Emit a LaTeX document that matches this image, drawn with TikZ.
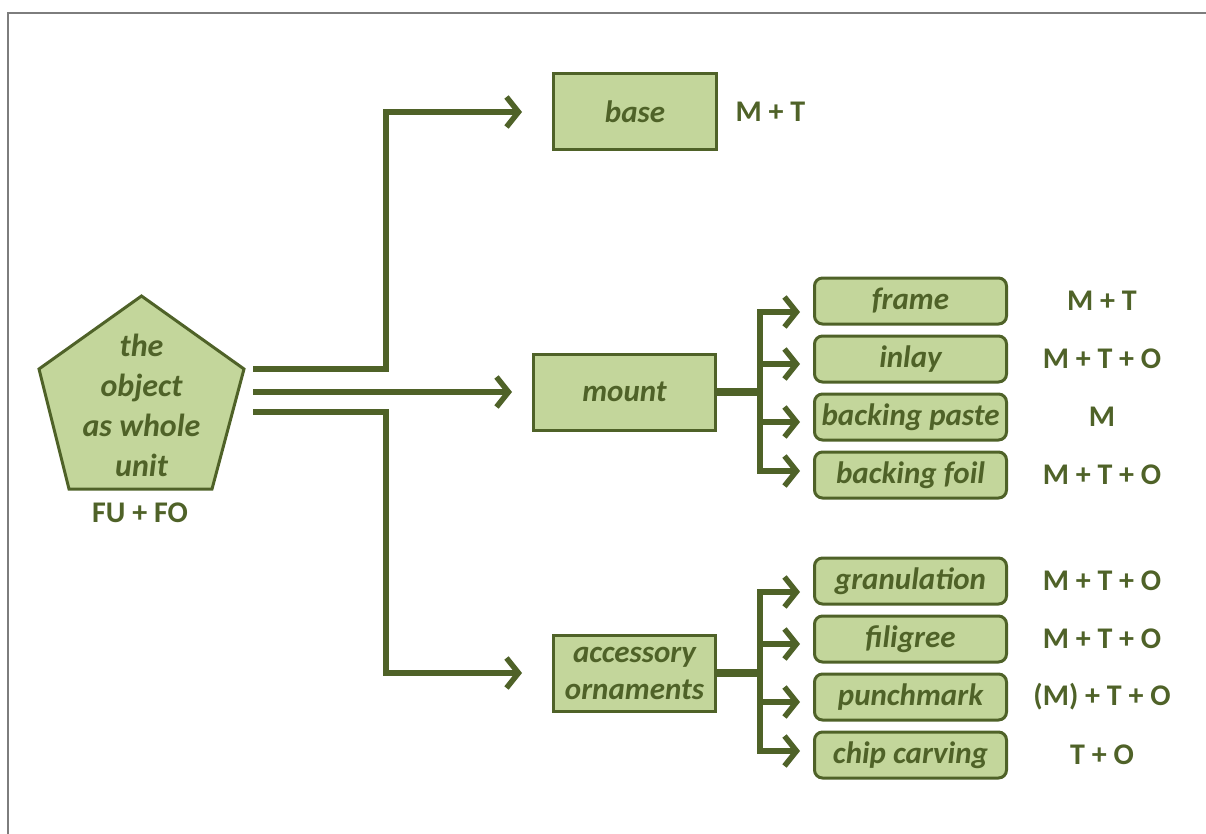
\documentclass[tikz,border=0pt]{standalone}
\usepackage{fontspec}
\setmainfont{Carlito}
\usetikzlibrary{arrows.meta,calc,positioning}
\definecolor{leafbg}{RGB}{195,214,155}
\definecolor{leafdraw}{RGB}{79,98,40}
\definecolor{edgegray}{RGB}{125,125,125}
\newcommand{\BoxFont}{\fontsize{31}{37}\selectfont}
\newcommand{\TagFont}{\fontsize{30}{36}\selectfont}
\newcommand{\WholeFont}{\fontsize{32}{40}\selectfont}
\tikzset{
  mainbox/.style={rectangle, draw=leafdraw, fill=leafbg, line width=3pt, minimum height=76pt, align=center, font=\bfseries\itshape\BoxFont, text=leafdraw, inner sep=2pt},
  partbox/.style={rectangle, rounded corners=8pt, draw=leafdraw, fill=leafbg, line width=3pt, minimum width=192pt, minimum height=46pt, font=\bfseries\itshape\BoxFont, text=leafdraw, inner sep=1pt},
  tagtext/.style={font=\bfseries\TagFont, text=leafdraw},
  flow/.style={-{Straight Barb[length=12pt, width=30pt]}, line width=5.5pt, draw=leafdraw},
  stub/.style={line width=8pt, draw=leafdraw}
}
\begin{document}
\begin{tikzpicture}[x=1pt, y=-1pt, node distance=9pt and 14pt]
  \useasboundingbox (0,0) rectangle (1206,834);
  \draw[edgegray, line width=1.6pt] (8,834) -- (8,13) -- (1206,13);
  % the whole object
  \filldraw[draw=leafdraw, fill=leafbg, line width=3pt, line join=miter] (141.5,296) -- (244,369) -- (212,489) -- (69,489) -- (39,369) -- cycle;
  \node[font=\bfseries\itshape\WholeFont, text=leafdraw, align=center] (whole) at (141.5,405) {the\\object\\as whole\\unit};
  \node[tagtext] (wholetag) at (140,513) {FU + FO};
  % main parts
  \node[mainbox, minimum width=163pt] (base) at (635,112) {base};
  \node[mainbox, minimum width=182pt] (mount) at (624.5,392) {mount};
  \node[mainbox, minimum width=162pt] (acc) at (634.5,673) {accessory\\ornaments};
  \node[tagtext, right=of base] (basetag) {M + T};
  % sub parts
  \node[partbox] (frame) at (910.5,301) {frame};
  \node[partbox, below=of frame] (inlay) {inlay};
  \node[partbox, below=of inlay] (paste) {backing paste};
  \node[partbox, below=of paste] (foil) {backing foil};
  \node[partbox] (gran) at (910.5,581) {granulation};
  \node[partbox, below=of gran] (fili) {filigree};
  \node[partbox, below=of fili] (punch) {punchmark};
  \node[partbox, below=of punch] (chip) {chip carving};
  \coordinate (tagcol) at (1102,0);
  \node[tagtext] (frametag) at (frame -| tagcol) {M + T};
  \node[tagtext] (inlaytag) at (inlay -| tagcol) {M + T + O};
  \node[tagtext] (pastetag) at (paste -| tagcol) {M};
  \node[tagtext] (foiltag) at (foil -| tagcol) {M + T + O};
  \node[tagtext] (grantag) at (gran -| tagcol) {M + T + O};
  \node[tagtext] (filitag) at (fili -| tagcol) {M + T + O};
  \node[tagtext] (punchtag) at (punch -| tagcol) {(M) + T + O};
  \node[tagtext] (chiptag) at (chip -| tagcol) {T + O};
  % connectors from the whole
  \coordinate (s1) at (253,369); \coordinate (s2) at (253,392); \coordinate (s3) at (253,412);
  \coordinate (knee) at (386,0);
  \draw[flow] (s1) -- (s1 -| knee) |- ([xshift=-30pt]base.west);
  \draw[flow] (s2) -- ([xshift=-20pt]mount.west);
  \draw[flow] (s3) -- (s3 -| knee) |- ([xshift=-30pt]acc.west);
  % mount branches
  \coordinate (mbus) at (760,392);
  \coordinate (framein) at ([xshift=-13pt, yshift=-11pt]frame.west);
  \coordinate (inlayin) at ([xshift=-13pt, yshift=-5pt]inlay.west);
  \coordinate (pastein) at ([xshift=-13pt, yshift=-5pt]paste.west);
  \coordinate (foilin) at ([xshift=-13pt, yshift=4pt]foil.west);
  \draw[stub] (mount.east) -- (mbus);
  \draw[flow] (mbus) |- (framein); \draw[flow] (mbus) |- (foilin);
  \draw[flow] (mbus |- inlayin) -- (inlayin); \draw[flow] (mbus |- pastein) -- (pastein);
  % ornament branches
  \coordinate (abus) at (760,673);
  \coordinate (granin) at ([xshift=-13pt, yshift=-11pt]gran.west);
  \coordinate (filiin) at ([xshift=-13pt, yshift=-5pt]fili.west);
  \coordinate (punchin) at ([xshift=-13pt, yshift=-5pt]punch.west);
  \coordinate (chipin) at ([xshift=-13pt, yshift=4pt]chip.west);
  \draw[stub] (acc.east) -- (abus);
  \draw[flow] (abus) |- (granin); \draw[flow] (abus) |- (chipin);
  \draw[flow] (abus |- filiin) -- (filiin); \draw[flow] (abus |- punchin) -- (punchin);
\end{tikzpicture}
\end{document}
